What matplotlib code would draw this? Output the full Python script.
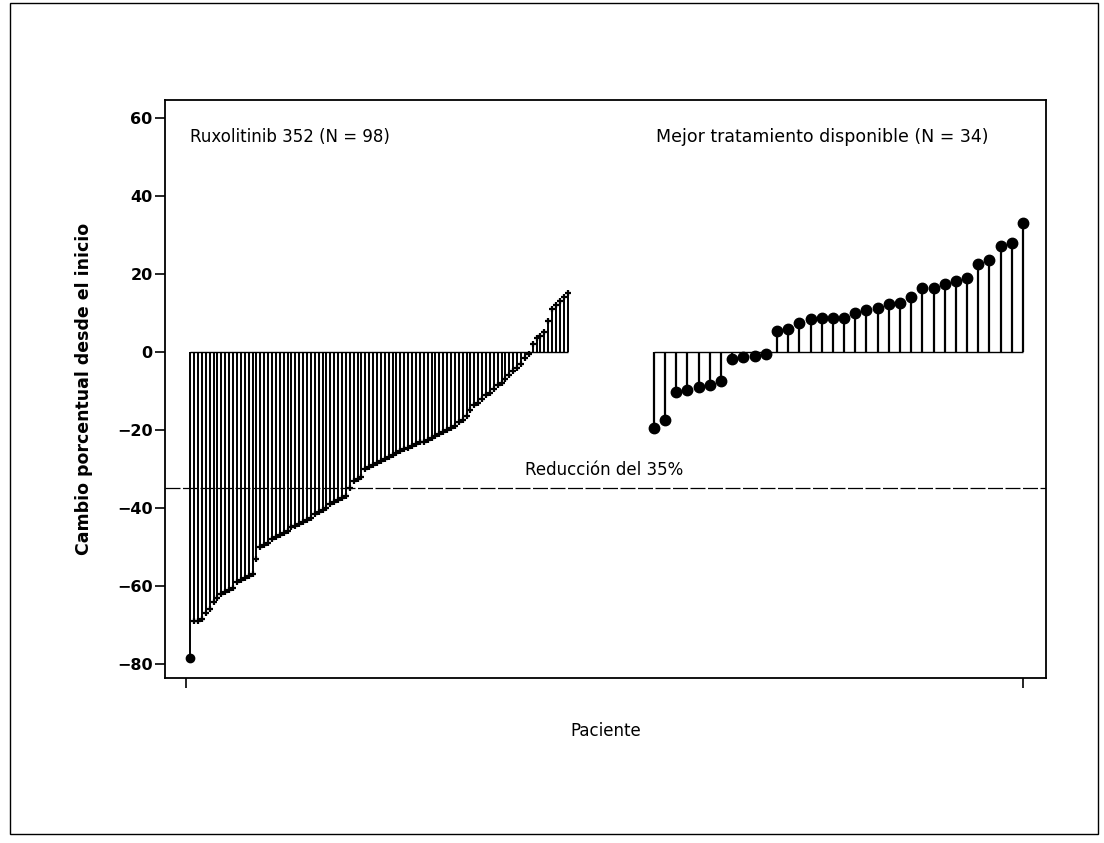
import numpy as np
import matplotlib
matplotlib.use('Agg')
import matplotlib.pyplot as plt
from matplotlib.patches import Rectangle

# ===== DATA =====
# Ruxolitinib arm, percent change from baseline, sorted
rux_change = [
    -78.5,
    -69, -69, -68.5,
    -67, -66,
    -64, -63,
    -62, -61.5, -61, -60.5,
    -59, -58.5, -58, -57.5, -57,
    -53,
    -50, -49.5, -49,
    -48, -47.5, -47, -46.5, -46,
    -45, -44.5, -44, -43.5, -43, -42.5,
    -41.5, -41, -40.5, -40,
    -39, -38.5, -38, -37.5, -37,
    -35,
    -33, -32.5, -32,
    -30, -29.5, -29, -28.5, -28,
    -27.5, -27, -26.5, -26, -25.5, -25, -24.5, -24,
    -23.5, -23, -23, -22.5, -22, -21.5, -21, -20.5, -20,
    -19.5, -19, -18, -17.5, -16.5,
    -15, -13.5, -13,
    -12, -11, -10.5,
    -9.5, -8.5, -8, -7,
    -6, -5, -4, -3,
    -1.5, -0.5,
    2, 3.5, 4, 5, 8, 11, 12, 13, 14, 15,
]

# Best available therapy arm
bat_change = [
    -19.5, -17.4, -10.3, -9.7, -9.0, -8.5, -7.4,
    -1.8, -1.2, -1.0, -0.4,
    5.4, 5.9, 7.5, 8.4, 8.8, 8.8, 8.8, 9.9, 10.7, 11.2, 12.3, 12.6,
    14.1, 16.4, 16.4, 17.4, 18.1, 18.9, 22.6, 23.6, 27.2, 27.9, 33.1,
]

rux_label = 'Ruxolitinib 352 (N = 98)'
bat_label = 'Mejor tratamiento disponible (N = 34)'
threshold = -35
threshold_label = 'Reducción del 35%'
y_ticks = [60, 40, 20, 0, -20, -40, -60, -80]

# ===== FIGURE =====
fig = plt.figure(figsize=(11.04, 8.43), dpi=100)
fig.patches.append(Rectangle((10 / 1104, 1 - 834 / 843), 1088 / 1104, 831 / 843,
                             transform=fig.transFigure, fill=False,
                             edgecolor='black', linewidth=1.0))
ax = fig.add_axes([0.1495, 0.1957, 0.7980, 0.6857])

# patient positions: each arm spread across its own part of the axis
x_rux = np.linspace(0.005, 0.456, len(rux_change))
x_bat = np.linspace(0.559, 1.0, len(bat_change))

# ruxolitinib needles
ax.vlines(x_rux, 0, rux_change, color='black', linewidth=1.4)
ax.hlines(0, x_rux[0], x_rux[-1], color='black', linewidth=1.0)
ax.plot(x_rux, rux_change, linestyle='none', marker='+', markersize=5,
        markeredgewidth=1.6, color='black')
ax.plot(x_rux[0], rux_change[0], linestyle='none', marker='o', markersize=6,
        color='black')

# best available therapy needles
ax.vlines(x_bat, 0, bat_change, color='black', linewidth=1.6)
ax.hlines(0, x_bat[0], x_bat[-1], color='black', linewidth=1.0)
ax.plot(x_bat, bat_change, linestyle='none', marker='o', markersize=7.5,
        color='black')

# 35% reduction reference line
ax.axhline(threshold, color='black', linewidth=0.9, linestyle=(0, (12, 2)))
ax.text(0.405, -30.3, threshold_label, fontsize=12, ha='left', va='center')

ax.text(0.005, 55, rux_label, fontsize=12, ha='left', va='center')
ax.text(0.561, 55, bat_label, fontsize=12.5, ha='left', va='center')

ax.set_xlim(-0.0251, 1.0275)
ax.set_ylim(-83.6, 64.6)
ax.set_xticks([0, 1])
ax.set_xticklabels([])
ax.set_yticks(y_ticks)
ax.set_yticklabels([str(t).replace('-', '\u2212') for t in y_ticks],
                   fontsize=11.5, fontweight='bold')
ax.tick_params(axis='both', direction='out', length=7.5, width=1.2, colors='black')
ax.tick_params(axis='y', pad=1.5)

ax.set_xlabel('Paciente', fontsize=12, va='center')
ax.xaxis.set_label_coords(0.5, -0.0917)
ax.set_ylabel('Cambio porcentual desde el inicio', fontsize=12.5, fontweight='bold',
              va='center')
ax.yaxis.set_label_coords(-0.0925, 0.5)
for side in ['left', 'right', 'top', 'bottom']:
    ax.spines[side].set_linewidth(1.3)

plt.savefig('out.png', dpi=100)
